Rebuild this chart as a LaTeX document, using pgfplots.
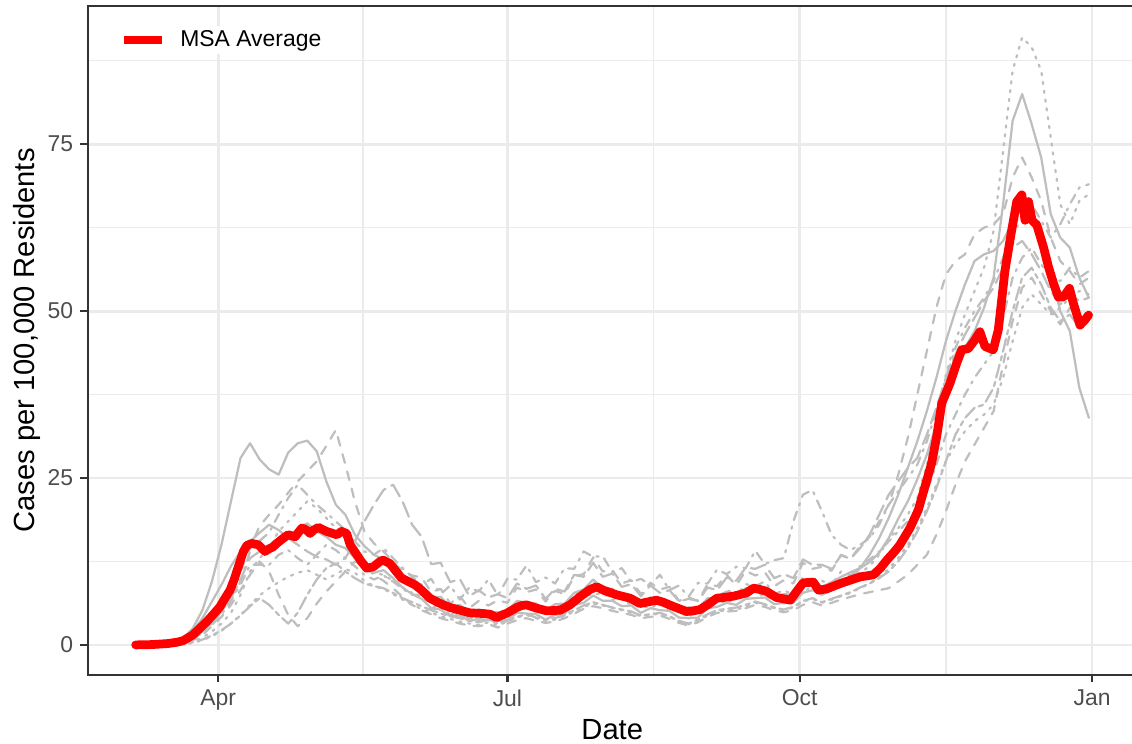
\documentclass[border=0pt]{standalone}
\usepackage{pgfplots}
\pgfplotsset{compat=1.18}
\usepackage{pgfplotstable}
\usepackage{fontspec}
\setmainfont{Liberation Sans}

\definecolor{grey92}{HTML}{EBEBEB}
\definecolor{grey30}{HTML}{4D4D4D}
\definecolor{grey20}{HTML}{333333}
\definecolor{countygrey}{HTML}{BEBEBE}

% R line types, in units of the line width (1.07pt)
\tikzset{
  lt solid/.style={solid},
  lt dashed/.style={dash pattern=on 4.27pt off 4.27pt},
  lt dotted/.style={dash pattern=on 1.07pt off 3.2pt},
  lt dotdash/.style={dash pattern=on 1.07pt off 3.2pt on 4.27pt off 3.2pt},
  lt longdash/.style={dash pattern=on 7.47pt off 3.2pt},
  lt twodash/.style={dash pattern=on 2.13pt off 2.13pt on 6.4pt off 2.13pt},
  county/.style={countygrey, line width=1.07pt, line cap=round, line join=round},
}

% Daily cases per 100,000 residents by county (day of year 2020, Jan 1 = 0)
\pgfplotstableread{
d   A    B    C    D    E    F    G    H    I    J
65  0    0    0    0    0    0    0    0    0    0
68  0    0    0    0    0    0    0    0    0    0
71  0.1  0    0    0    0    0    0.1  0    0    0
74  0.2  0.1  0.1  0    0.1  0    0.2  0    0.1  0
77  0.5  0.3  0.2  0.1  0.2  0.1  0.4  0.1  0.2  0
80  1.0  0.6  0.4  0.2  0.5  0.2  0.8  0.3  0.5  0.1
83  2.5  1.2  0.9  0.5  1.0  0.4  2.0  0.7  1.1  0.3
86  5.2  2.4  1.8  1.1  2.0  0.8  4.0  1.5  2.2  0.7
89  9.5  3.8  3.0  2.0  3.3  1.4  6.5  2.8  3.5  1.3
92  15.0 5.5  4.6  3.2  5.0  2.2  9.0  4.2  5.0  2.1
95  21.5 7.8  6.5  4.8  7.0  3.2  11.8 6.0  6.8  3.2
98  28.0 11.0 9.5  7.5  9.8  4.4  14.0 8.2  9.0  4.5
101 30.2 14.5 14.0 11.0 13.0 5.8  15.5 10.5 12.0 6.0
104 27.8 17.8 15.6 13.0 14.0 7.0  16.8 12.5 12.0 7.4
107 26.3 19.5 16.8 14.5 14.2 6.0  18.0 11.0 12.0 8.5
110 25.5 21.0 19.5 17.0 15.2 4.5  17.2 7.5  13.5 9.4
113 28.8 22.8 22.0 18.5 16.0 3.2  16.0 4.5  14.2 10.2
116 30.2 24.5 24.0 20.0 15.0 4.8  17.5 2.8  13.0 10.8
119 30.6 26.0 22.5 21.5 14.0 7.5  18.2 4.0  12.0 11.2
122 29.0 27.5 21.0 20.5 13.2 9.8  17.0 6.2  13.5 10.5
125 24.5 29.8 19.8 19.0 12.8 11.5 16.2 8.0  15.0 9.8
128 21.0 32.2 18.5 17.5 12.0 12.2 15.0 9.5  14.2 10.6
131 19.5 27.0 17.2 16.0 13.0 11.0 14.5 11.0 13.0 11.4
134 16.5 21.5 15.5 13.8 15.5 10.0 13.0 12.5 11.8 10.8
137 14.8 17.0 14.0 12.0 18.5 9.2  11.5 11.8 10.5 9.6
140 13.5 15.2 13.5 10.8 21.0 8.8  10.8 10.5 9.8  8.8
143 12.8 14.0 14.5 10.5 23.2 8.5  11.2 9.6  10.4 8.4
146 11.0 12.5 13.0 9.6  24.0 7.8  10.0 8.5  9.5  7.6
149 10.2 11.0 11.5 8.6  21.5 7.0  8.6  7.2  8.4  6.8
152 9.0  10.4 10.2 7.8  18.0 6.4  7.6  6.0  7.5  6.0
155 8.6  10.1 9.0  6.9  16.2 5.8  6.9  5.2  7.5  5.4
158 7.0  7.9  9.9  6.6  12.1 5.2  5.5  4.6  5.4  4.8
161 7.2  8.4  7.6  5.2  12.3 4.7  5.3  4.0  6.2  4.3
164 5.7  6.2  8.9  5.5  9.4  4.3  4.3  3.6  4.4  3.9
167 6.0  7.3  6.8  4.1  9.9  4.0  4.4  3.2  5.4  3.5
170 4.9  5.5  8.6  4.6  7.3  3.6  3.6  2.9  3.8  3.2
173 5.3  6.6  8.0  3.6  8.2  3.4  3.9  2.8  4.8  3.0
176 5.0  5.9  9.8  4.9  7.1  3.8  3.7  3.1  4.1  3.4
179 4.9  6.7  7.4  3.6  7.6  3.2  3.6  2.6  4.6  2.9
182 5.1  6.3  9.9  4.9  7.0  3.6  3.7  3.2  4.3  3.5
185 6.6  8.6  9.8  5.1  9.2  4.2  4.8  3.7  6.3  4.1
188 6.3  7.9  11.9 6.2  8.4  4.6  4.7  4.0  5.7  4.5
191 6.2  8.3  9.4  4.9  8.9  4.1  4.6  3.6  6.2  4.0
194 5.2  6.5  10.1 5.1  6.9  3.8  3.8  3.3  4.8  3.6
197 6.1  8.1  9.2  4.7  8.4  4.0  4.5  3.5  6.0  3.8
200 6.2  7.6  11.5 5.9  8.0  4.5  4.7  4.0  5.7  4.3
203 7.8  10.3 11.4 6.1  10.5 5.2  6.0  4.7  7.6  5.0
206 8.3  10.6 14.0 7.5  10.2 5.9  6.3  5.4  7.5  5.7
209 9.8  13.1 13.2 7.5  12.3 6.4  7.4  5.8  9.4  6.2
212 8.5  11.0 13.3 7.8  10.2 6.0  6.6  5.5  7.9  5.9
215 8.4  11.2 10.9 6.7  10.7 5.6  6.6  5.1  8.3  5.5
218 7.2  9.2  11.5 7.0  8.7  5.3  5.8  4.8  6.9  5.2
221 7.4  9.7  9.4  5.9  9.1  5.0  5.9  4.5  7.5  4.8
224 6.1  7.6  9.9  5.9  7.3  4.4  4.8  4.0  5.8  4.3
227 7.1  9.3  9.0  5.5  8.9  4.6  5.5  4.2  7.1  4.5
230 6.6  8.3  10.5 6.3  7.8  4.8  5.2  4.4  6.4  4.7
233 6.4  8.7  8.2  5.1  8.2  4.3  5.1  3.9  6.7  4.2
236 5.3  6.6  8.9  5.1  6.5  3.6  4.1  3.3  4.9  3.6
239 5.6  7.1  7.2  4.1  6.9  3.2  4.0  2.9  5.4  3.1
242 5.5  6.6  9.3  5.2  6.6  3.8  4.1  3.4  5.0  3.6
245 7.0  9.1  9.2  5.5  8.6  4.6  5.5  4.2  7.0  4.4
248 7.0  8.8  11.3 6.7  8.2  5.2  5.7  4.8  6.9  5.0
251 8.0  10.5 10.6 6.3  10.1 5.4  6.3  5.0  8.3  5.2
254 7.1  8.9  11.7 7.1  9.6  5.6  6.0  5.1  7.4  5.3
257 8.5  11.1 11.5 6.9  11.6 6.0  6.9  5.5  9.1  5.7
260 8.5  10.4 14.1 8.1  11.4 6.5  7.0  6.0  8.8  6.3
263 8.7  10.9 12.1 7.1  12.0 6.1  7.1  5.7  9.5  6.0
266 7.3  8.8  12.7 7.1  10.0 5.6  6.1  5.2  7.6  5.5
269 7.6  9.7  13.0 6.2  10.6 5.3  6.3  4.9  8.2  5.2
272 7.5  9.2  18.5 7.2  10.0 5.7  6.3  5.2  7.5  5.6
275 9.6  12.3 22.5 7.9  12.8 6.6  7.8  6.0  10.2 6.5
278 9.9  11.4 23.2 8.8  12.0 7.0  8.2  6.4  9.4  6.9
281 8.7  11.7 20.0 7.5  12.0 6.4  7.5  5.9  9.6  6.3
284 9.4  11.1 16.5 8.7  11.4 6.9  8.2  6.3  9.0  6.8
287 10.2 13.5 15.0 8.9  13.4 7.4  9.0  6.8  11.0 7.3
290 10.9 12.9 14.2 10.3 12.9 7.9  10.0 7.2  10.4 7.8
293 11.5 14.8 15.0 10.8 14.5 8.6  11.5 7.6  11.8 8.5
296 12.4 16.2 16.0 11.8 16.5 9.2  13.5 7.9  12.8 9.2
299 13.8 18.5 18.0 13.5 19.5 10.0 16.0 8.2  14.0 10.2
302 16.0 21.0 21.0 15.8 22.5 11.0 19.0 8.5  15.5 11.4
305 18.9 25.5 23.0 17.5 24.5 12.5 22.5 9.5  17.0 13.0
308 21.5 31.0 25.0 19.5 26.5 14.5 26.5 10.5 18.5 15.0
311 24.8 37.5 27.0 22.0 28.0 17.0 30.5 12.0 20.0 17.5
314 28.5 44.0 30.5 27.0 31.5 20.0 35.0 13.5 23.0 20.5
317 33.0 50.5 35.0 33.0 35.5 23.5 40.0 16.5 27.0 24.0
320 37.5 55.5 40.0 40.5 40.0 27.5 45.5 20.0 31.5 27.5
323 41.0 57.5 44.5 45.5 43.5 31.5 50.0 24.0 34.5 30.0
326 44.5 58.5 47.5 49.5 46.5 34.0 54.0 27.5 37.5 32.0
329 47.0 61.5 50.0 53.0 49.0 35.5 57.5 30.0 40.0 33.5
332 50.5 62.5 52.0 56.5 51.5 36.0 58.5 32.5 42.0 34.5
335 55.0 63.0 54.5 62.0 53.5 38.5 59.0 35.0 44.0 36.0
338 66.0 64.5 58.0 74.0 56.5 44.0 60.5 42.0 49.0 40.0
341 78.5 70.0 62.0 86.0 59.5 50.0 63.5 48.5 55.0 45.5
344 82.5 73.0 63.5 91.0 60.5 55.0 66.0 53.5 58.0 50.5
347 78.0 70.0 66.0 89.5 58.5 56.5 64.5 55.0 59.5 52.5
350 73.0 66.5 63.5 86.0 56.0 54.0 61.0 52.5 57.0 51.0
353 64.5 61.0 61.0 76.0 53.0 50.5 55.5 50.0 55.0 49.5
356 61.0 57.5 63.0 66.0 51.0 48.5 50.0 48.0 54.5 50.5
359 59.5 56.0 66.0 63.0 52.5 49.5 47.0 50.5 56.5 52.0
362 55.0 54.0 68.5 66.5 51.5 47.5 38.5 49.0 55.0 53.0
365 52.0 55.0 69.0 67.5 52.0 49.0 34.0 48.0 56.0 52.5
}\counties

\begin{document}
\begin{tikzpicture}
\useasboundingbox (-42.24pt,-33.12pt) rectangle (501.12pt,323.98pt);
\begin{axis}[
  at={(0,0)}, anchor=south west,
  scale only axis, width=503.3pt, height=321.12pt,
  xmin=50, xmax=380, ymin=-4.5, ymax=95.7,
  axis line style={grey20, line width=1.1pt},
  tick pos=left,
  tick align=outside,
  major tick length=3.6pt, minor tick length=0pt,
  tick style={grey20, line width=1.1pt},
  xtick={91,182,274,366}, xticklabels={Apr,Jul,Oct,Jan},
  minor xtick={136.5,228,320},
  ytick={0,25,50,75}, minor ytick={12.5,37.5,62.5,87.5},
  grid=both,
  major grid style={grey92, line width=1.36pt},
  minor grid style={grey92, line width=0.68pt},
  /pgf/number format/assume math mode=true,
  xticklabel style={font=\fontsize{11}{13}\selectfont, text=grey30},
  yticklabel style={font=\fontsize{11}{13}\selectfont, text=grey30},
  xlabel={Date}, ylabel={Cases per 100,000 Residents},
  every axis x label/.style={at={(axis description cs:0.5,0)}, anchor=center, yshift=-26.4pt, font=\fontsize{14}{16}\selectfont},
  every axis y label/.style={at={(axis description cs:0,0.5)}, rotate=90, anchor=center, yshift=29.3pt, font=\fontsize{14}{16}\selectfont},
  legend style={at={(axis description cs:0,1)}, anchor=west, xshift=13pt, yshift=-16.4pt,
    draw=none, fill=white, inner sep=2pt, font=\fontsize{11}{13}\selectfont,
    nodes={inner sep=0pt}, column sep=6.7pt},
  legend cell align=left,
  legend image code/.code={\draw[#1, line cap=butt] (0pt,0pt) -- (18.2pt,0pt);},
]
\addplot[county, lt solid, forget plot]    table[x=d, y=A] {\counties};
\addplot[county, lt dashed, forget plot]   table[x=d, y=B] {\counties};
\addplot[county, lt dotdash, forget plot]  table[x=d, y=C] {\counties};
\addplot[county, lt dotted, forget plot]   table[x=d, y=D] {\counties};
\addplot[county, lt longdash, forget plot] table[x=d, y=E] {\counties};
\addplot[county, lt twodash, forget plot]  table[x=d, y=F] {\counties};
\addplot[county, lt solid, forget plot]    table[x=d, y=G] {\counties};
\addplot[county, lt dashed, forget plot]   table[x=d, y=H] {\counties};
\addplot[county, lt dotdash, forget plot]  table[x=d, y=I] {\counties};
\addplot[county, lt dotted, forget plot]   table[x=d, y=J] {\counties};

% MSA average
\addplot[red, line width=4.2pt, line join=round, line cap=round] coordinates {
(65,0) (70,0.05) (75,0.2) (78,0.4) (80,0.65) (83,1.5) (85,2.4) (87.4,3.5)
(89.5,4.6) (91.5,5.7) (93,6.9) (94.7,8.2) (96,9.8) (97.3,11.7) (98.9,14.0)
(100,14.9) (101.5,15.2) (103.6,15.0) (105.7,14.0) (107,14.4) (108.3,14.7)
(109.4,15.2) (111.5,16.0) (113,16.5) (115.2,16.2) (117.3,17.5) (118.5,17.3)
(119.9,16.7) (121,17.2) (122.5,17.6) (125.1,17.0) (128.3,16.5) (129.8,17.0)
(131.4,16.7) (132.5,15.0) (134.6,13.5) (136,12.5) (137.7,11.5) (139.8,11.7)
(141.9,12.5) (142.9,12.7) (145,12.2) (147,11.0) (148.7,10.0) (150.8,9.5)
(152.9,9.0) (155,8.2) (157.6,7.0) (160,6.4) (161.8,6.0) (164,5.6) (167.1,5.2)
(170.2,4.8) (174.4,4.7) (176.5,4.6) (178.6,4.1) (180,4.4) (181.8,4.75)
(184.9,5.6) (186.5,5.9) (188,6.0) (191.2,5.5) (194.4,5.1) (198.6,5.2)
(201.7,6.0) (204.8,7.2) (208,8.3) (210.1,8.7) (212.2,8.2) (216.4,7.5)
(220.6,7.0) (223.7,6.2) (226.9,6.5) (228.9,6.7) (231,6.4) (234,5.8)
(238.4,5.0) (240.5,5.1) (242.6,5.3) (245,6.0) (247.9,7.0) (250,7.1)
(253.1,7.3) (257.3,7.8) (259.4,8.5) (261.5,8.3) (263.6,8.0) (266.7,7.1)
(269,6.9) (271,6.7) (273,8.0) (275.1,9.3) (278.3,9.4) (279.9,8.2)
(282.5,8.4) (286.8,9.2) (289.9,9.7) (293.1,10.2) (297.2,10.5) (299.4,11.5)
(301.4,12.7) (303.5,13.8) (305.4,14.9) (308.7,17.5) (311.3,20.2)
(313.4,23.7) (315.5,27.2) (317.1,31.2) (318.7,36.2) (321.3,39.2)
(323.4,42.2) (325,44.2) (327.1,44.4) (329,45.6) (330.7,46.9) (332.3,44.7)
(334.9,44.2) (336.5,47.2) (338.6,56.1) (340.7,62.1) (342.3,66.4)
(343.9,67.4) (344.9,63.6) (346,66.4) (347.1,63.6) (348.6,62.9) (350.7,59.6)
(352.3,56.6) (353.9,54.1) (355.4,52.1) (357,52.1) (358.9,53.4) (360.1,51.2)
(362.2,47.9) (363.8,48.7) (364.9,49.4)
};
\addlegendentry{MSA Average}
\end{axis}
\end{tikzpicture}
\end{document}
